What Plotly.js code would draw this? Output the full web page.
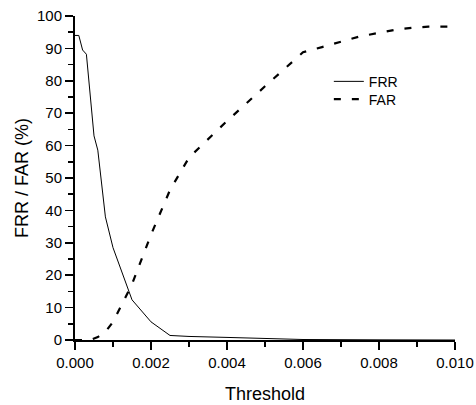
<!DOCTYPE html>
<html>
<head>
<meta charset="utf-8">
<script src="https://cdn.plot.ly/plotly-3.0.1.min.js"></script>
<style>html,body{margin:0;padding:0;background:#fff;}#chart{width:476px;height:405px;}</style>
</head>
<body>
<div id="chart"></div>
<script>
// Threshold values and rates (%)
var frrThreshold = [0, 0.0001, 0.0002, 0.0003, 0.0005, 0.0006, 0.0008, 0.001, 0.0015, 0.002, 0.0025, 0.003, 0.004, 0.005, 0.006, 0.008, 0.01];
var frrValues    = [94, 94, 89.5, 88.2, 63, 58.6, 38, 28.5, 12.4, 5.6, 1.4, 1.1, 0.8, 0.4, 0.15, 0.05, 0];

var farThreshold = [0, 0.0004, 0.0006, 0.0008, 0.001, 0.0015, 0.002, 0.0025, 0.003, 0.004, 0.005, 0.006, 0.0065, 0.007, 0.0075, 0.008, 0.0085, 0.009, 0.0093, 0.01];
var farValues    = [0, 0, 0.9, 2.5, 5.6, 17.2, 32.5, 46.3, 56.3, 67.6, 78.3, 88.8, 90.4, 92, 93.7, 94.8, 95.9, 96.5, 96.7, 96.7];

var seriesNames = ["FRR", "FAR"];
var xTickFormat = ".3f";

var font = "Arial, 'Liberation Sans', sans-serif";

var traces = [
  {
    x: frrThreshold, y: frrValues, name: seriesNames[0], type: "scatter", mode: "lines",
    line: {color: "#000", width: 1}, cliponaxis: false, legend: "legend"
  },
  {
    x: farThreshold, y: farValues, name: seriesNames[1], type: "scatter", mode: "lines",
    line: {color: "#000", width: 2.2, dash: "7px,11px"}, cliponaxis: false, legend: "legend2"
  }
];

var legendCommon = {
  xanchor: "left", yanchor: "middle", bgcolor: "rgba(0,0,0,0)", borderwidth: 0,
  font: {family: font, size: 14, color: "#000"}
};

var layout = {
  width: 476, height: 405,
  margin: {l: 75, r: 21, t: 16, b: 65},
  paper_bgcolor: "#fff", plot_bgcolor: "#fff",
  font: {family: font, color: "#000"},
  showlegend: true,
  legend: Object.assign({x: 0.668, y: 0.797}, legendCommon),
  legend2: Object.assign({x: 0.668, y: 0.742}, legendCommon),
  xaxis: {
    range: [0, 0.01], dtick: 0.002, tick0: 0, tickformat: xTickFormat,
    showgrid: false, zeroline: false, showline: true, linecolor: "#000", linewidth: 2,
    ticks: "outside", ticklen: 8, tickwidth: 1.5, tickcolor: "#000",
    tickfont: {family: font, size: 15, color: "#000"},
    minor: {dtick: 0.001, ticks: "outside", ticklen: 5, tickwidth: 1.5, tickcolor: "#000", showgrid: false},
    title: {text: "Threshold", font: {family: font, size: 18, color: "#000"}, standoff: 17}
  },
  yaxis: {
    range: [0, 100], dtick: 10, tick0: 0,
    showgrid: false, zeroline: false, showline: true, linecolor: "#000", linewidth: 2,
    ticks: "outside", ticklen: 8, tickwidth: 1.5, tickcolor: "#000",
    tickfont: {family: font, size: 15, color: "#000"},
    minor: {dtick: 5, ticks: "outside", ticklen: 5, tickwidth: 1.5, tickcolor: "#000", showgrid: false},
    title: {text: "FRR / FAR (%)", font: {family: font, size: 18, color: "#000"}, standoff: 4}
  }
};

Plotly.newPlot("chart", traces, layout, {displayModeBar: false, staticPlot: true});
</script>
</body>
</html>
